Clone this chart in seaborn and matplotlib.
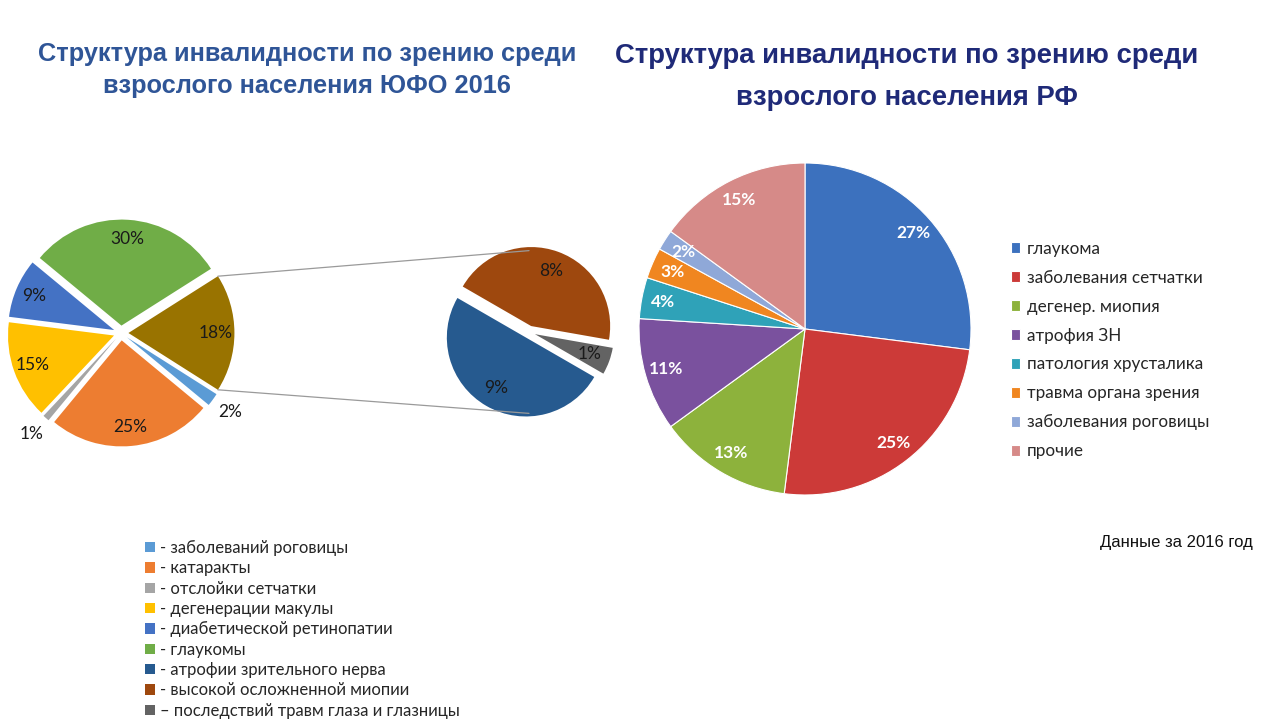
import numpy as np
import matplotlib
matplotlib.use("Agg")
import matplotlib.pyplot as plt
from matplotlib.patches import ConnectionPatch
import seaborn as sns

# ---------------- data ----------------
yufo_labels = ["- заболеваний роговицы", "- катаракты", "- отслойки сетчатки",
               "- дегенерации макулы", "- диабетической ретинопатии", "- глаукомы",
               "- атрофии зрительного нерва", "- высокой осложненной миопии",
               "– последствий травм глаза и глазницы"]
yufo_main_values = [2, 25, 1, 15, 9, 30]      # primary pie
yufo_sub_values = [9, 8, 1]                   # secondary pie (split of "other")
rf_labels = ["глаукома", "заболевания сетчатки", "дегенер. миопия", "атрофия ЗН",
             "патология хрусталика", "травма органа зрения", "заболевания роговицы", "прочие"]
rf_values = [27, 25, 13, 11, 4, 3, 2, 15]

title_left = "Структура инвалидности по зрению среди\nвзрослого населения ЮФО 2016"
title_right = "Структура инвалидности по зрению среди\nвзрослого населения РФ"
note = "Данные за 2016 год"

# ---------------- style ----------------
sns.set_theme(style="white")
plt.rcParams["font.family"] = ["Lato", "DejaVu Sans"]

yufo_main_colors = sns.color_palette(["#5B9BD5", "#ED7D31", "#A5A5A5", "#FFC000", "#4472C4", "#70AD47"])
other_color = "#997300"
yufo_sub_colors = sns.color_palette(["#265A8F", "#9E480E", "#636363"])
rf_colors = sns.color_palette(["#3C71BE", "#CC3A38", "#8DB23C", "#7A519E",
                               "#2FA2B8", "#F08620", "#8FA8D8", "#D68A88"])

W, H = 1280, 720
fig = plt.figure(figsize=(W / 100, H / 100), dpi=100)
fig.patch.set_facecolor("white")
LIM = 1.1


def square_axes(cx, cy, r_px):
    size = 2 * LIM * r_px
    ax = fig.add_axes([(cx - size / 2) / W, 1 - (cy + size / 2) / H, size / W, size / H])
    ax.axis("off")
    return ax


def fix_limits(ax):
    ax.set_xlim(-LIM, LIM)
    ax.set_ylim(-LIM, LIM)
    ax.set_aspect("equal")
    ax.axis("off")


def wedge_point(w, ang_deg, rad):
    a = np.deg2rad(ang_deg)
    return (w.center[0] + rad * np.cos(a), w.center[1] + rad * np.sin(a))


def label_wedges(ax, wedges, texts, dists, **kw):
    for w, t, d in zip(wedges, texts, dists):
        mid = (w.theta1 + w.theta2) / 2
        x, y = wedge_point(w, mid, w.r * d)
        ax.text(x, y, t, ha="center", va="center", **kw)


# ---------------- left primary pie ----------------
ax1 = square_axes(121, 333, 106)
other_value = sum(yufo_sub_values)
main_vals = yufo_main_values + [other_value]
main_cols = list(yufo_main_colors) + [other_color]
start1 = -other_value / sum(main_vals) * 360 / 2
w1, _ = ax1.pie(main_vals, colors=main_cols, startangle=start1, counterclock=False,
                explode=[0.07] * len(main_vals), radius=1.0,
                wedgeprops=dict(linewidth=0))
fix_limits(ax1)
d1 = [1.2 if v <= 2 else 0.82 for v in main_vals]
label_wedges(ax1, w1, [f"{v}%" for v in main_vals], d1, fontsize=12.5, color="#1a1a1a")

# ---------------- secondary pie ----------------
ax2 = square_axes(529, 332, 79)
w2, _ = ax2.pie(yufo_sub_values, colors=yufo_sub_colors, startangle=-30, counterclock=False,
                explode=[0.08] * len(yufo_sub_values), wedgeprops=dict(linewidth=0))
fix_limits(ax2)
label_wedges(ax2, w2, [f"{v}%" for v in yufo_sub_values], [0.74] * 3, fontsize=12.5, color="#1a1a1a")

# connector lines
ow = w1[-1]
p_top = wedge_point(ow, ow.theta2, ow.r)
p_bot = wedge_point(ow, ow.theta1, ow.r)
for pa, pb in [(p_top, (0, 1.03)), (p_bot, (0, -1.03))]:
    con = ConnectionPatch(xyA=pa, coordsA=ax1.transData, xyB=pb, coordsB=ax2.transData,
                          color="#9a9a9a", linewidth=0.9)
    fig.add_artist(con)

# left legend
fig.legend(list(w1[:6]) + list(w2), yufo_labels, loc="upper left",
           bbox_to_anchor=(145 / W, 1 - 540 / H), frameon=False, fontsize=12,
           handlelength=0.6, handleheight=0.6, handletextpad=0.3, labelspacing=0.26,
           borderpad=0, borderaxespad=0)

# ---------------- right pie ----------------
ax3 = square_axes(805, 329, 166)
w3, _ = ax3.pie(rf_values, colors=rf_colors, startangle=90, counterclock=False,
                wedgeprops=dict(linewidth=0.8, edgecolor="white"))
fix_limits(ax3)
label_wedges(ax3, w3, [f"{v}%" for v in rf_values], [0.87] * len(rf_values),
             fontsize=12.5, color="white", fontweight="bold")

fig.legend(w3, rf_labels, loc="center left", bbox_to_anchor=(1011 / W, 1 - 350 / H),
           frameon=False, fontsize=12.3, handlelength=0.55, handleheight=0.55,
           handletextpad=0.4, labelspacing=0.76, borderpad=0, borderaxespad=0)

# ---------------- titles & note ----------------
fig.text(307 / W, 1 - 70 / H, title_left, ha="center", va="center", fontsize=18.3,
         fontweight="bold", color="#2F5597", family=["Liberation Sans", "DejaVu Sans"],
         linespacing=1.45)
fig.text(907 / W, 1 - 77 / H, title_right, ha="center", va="center", fontsize=19.8,
         fontweight="bold", color="#1F2A78", family=["Liberation Sans", "DejaVu Sans"],
         linespacing=1.78)
fig.text(1253 / W, 1 - 543 / H, note, ha="right", va="center", fontsize=12,
         color="#111111", family=["Liberation Sans", "DejaVu Sans"])

fig.savefig("out.png", dpi=100, facecolor="white")
